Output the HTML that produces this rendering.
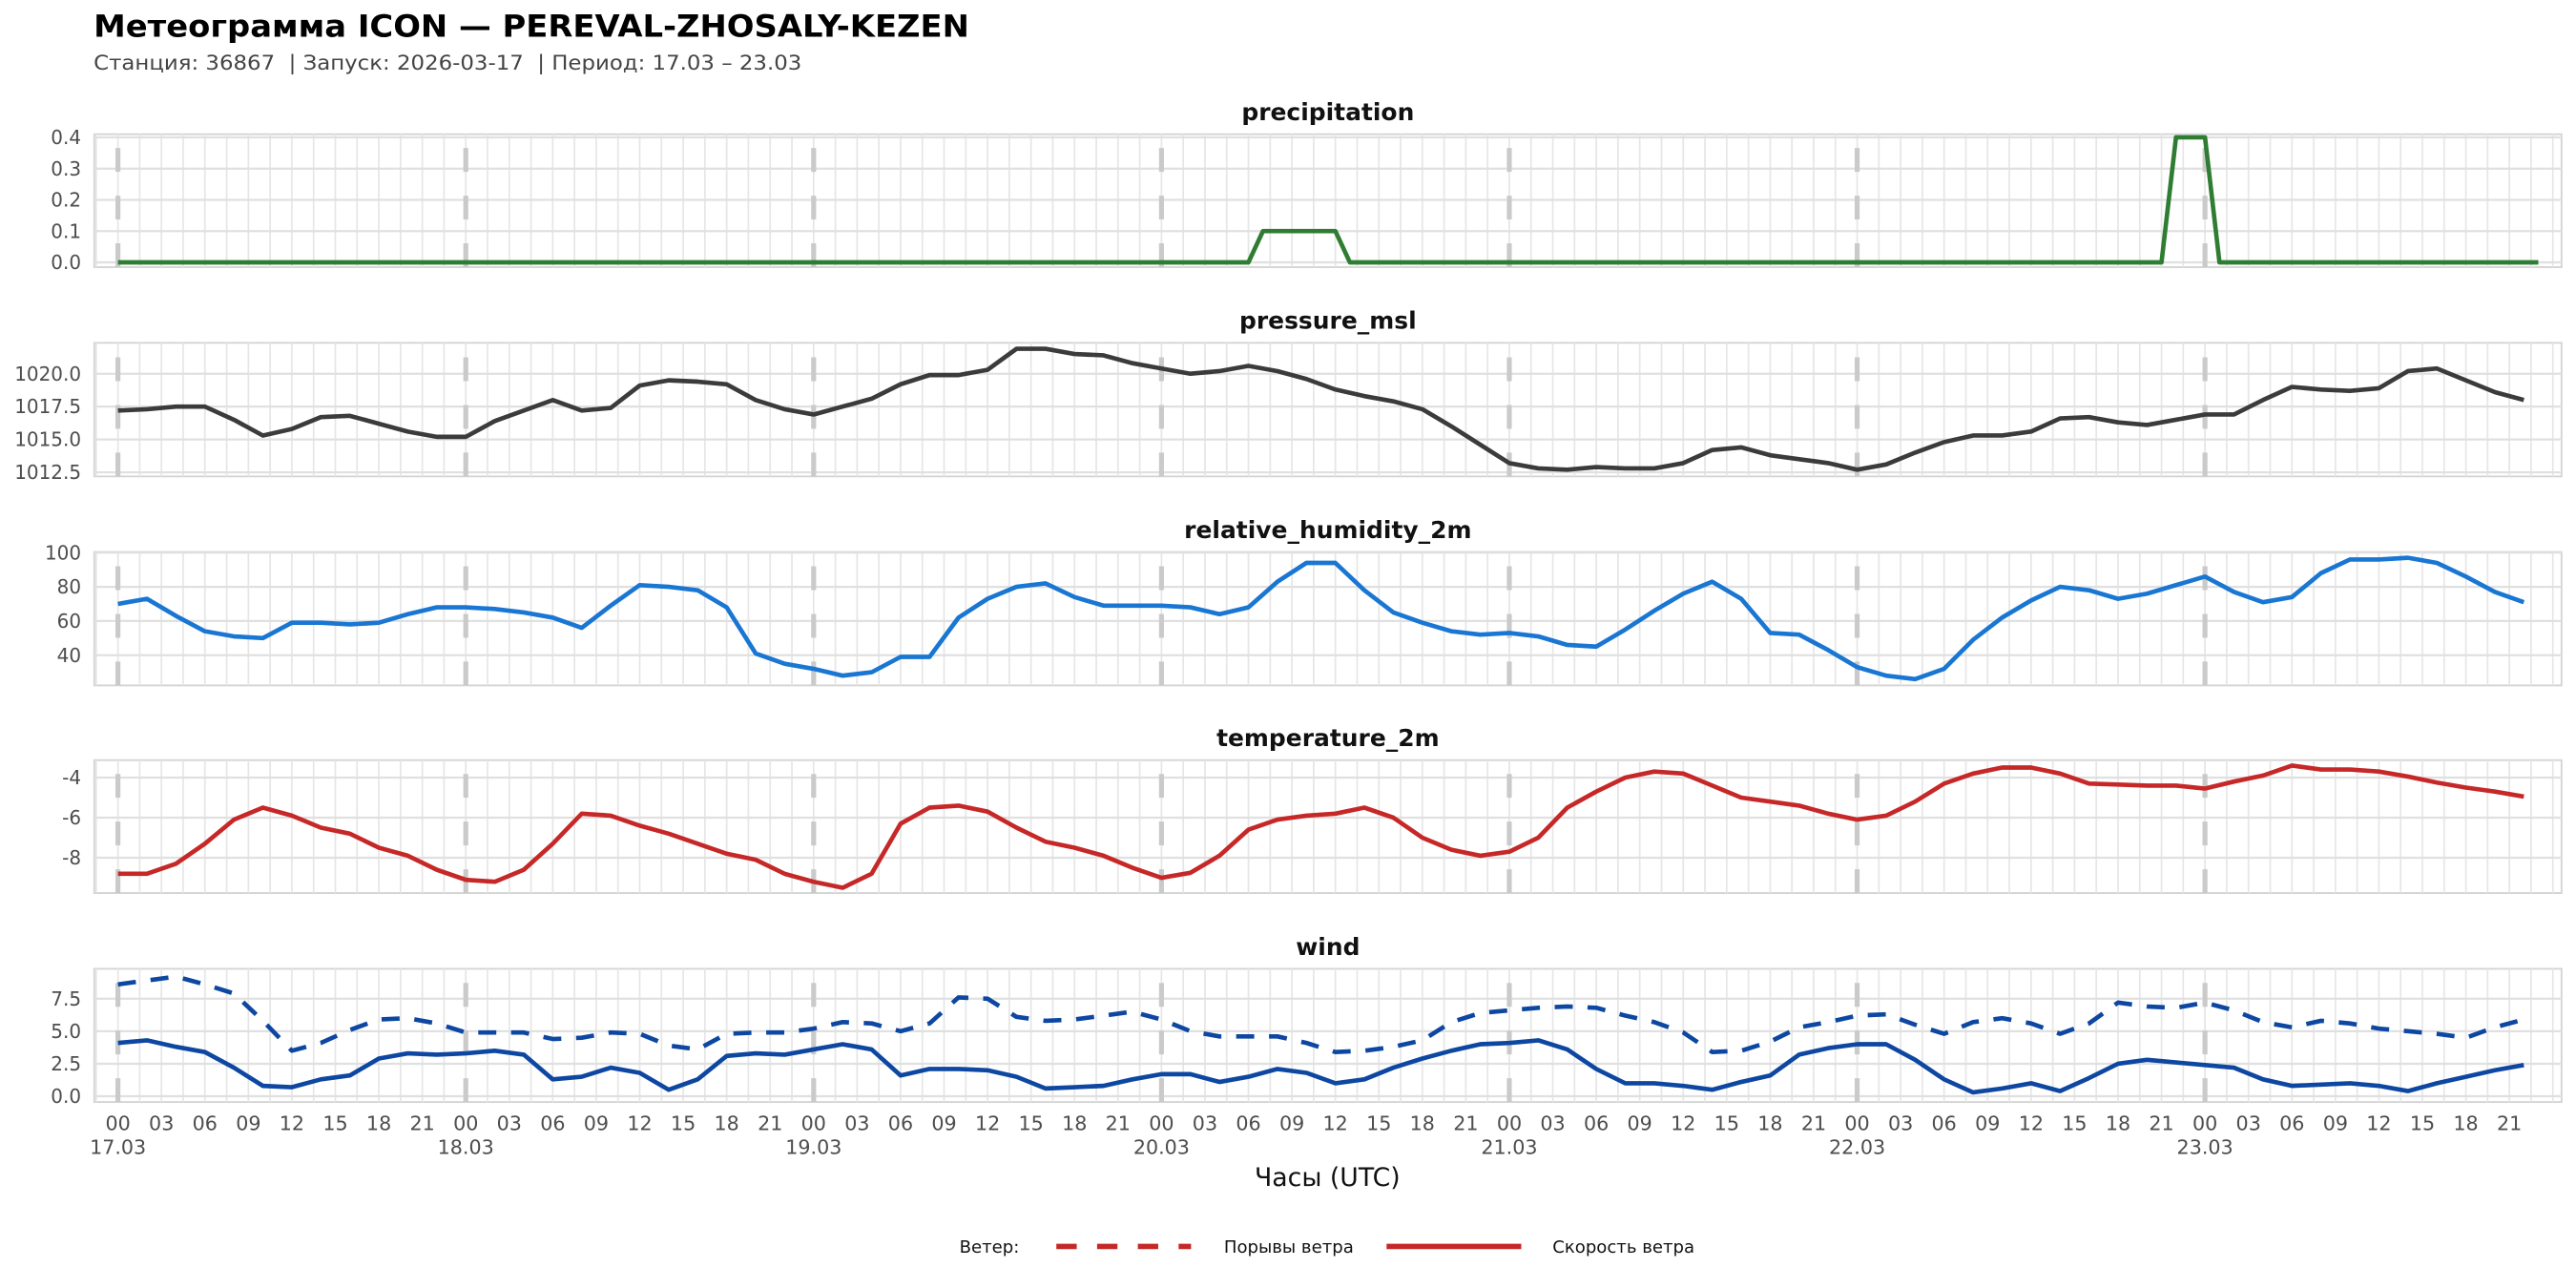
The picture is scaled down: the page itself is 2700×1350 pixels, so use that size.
<!DOCTYPE html>
<html><head><meta charset="utf-8"><title>Meteogram</title>
<style>
html,body{margin:0;padding:0;background:#fff;}
svg{display:block;font-family:"DejaVu Sans","Liberation Sans",sans-serif;}
</style></head>
<body>
<svg id="chart" width="2700" height="1350" viewBox="0 0 1568 784" xmlns="http://www.w3.org/2000/svg">
<text x="57" y="22.5" font-size="18.5" font-weight="bold" fill="#000" textLength="533" lengthAdjust="spacingAndGlyphs">Метеограмма ICON — PEREVAL-ZHOSALY-KEZEN</text>
<text xml:space="preserve" x="57" y="42.5" font-size="12.3" fill="#444" textLength="431" lengthAdjust="spacingAndGlyphs">Станция: 36867  | Запуск: 2026-03-17  | Период: 17.03 – 23.03</text>
<g id="panels"></g>
<text x="808" y="722" font-size="15.5" fill="#111" text-anchor="middle">Часы (UTC)</text>
<g>
<text x="584" y="762.5" font-size="10.5" fill="#111">Ветер:</text>
<line x1="643" y1="758.7" x2="725" y2="758.7" stroke="#c62828" stroke-width="3.2" stroke-dasharray="12.4 12.4"/>
<text x="745" y="762.5" font-size="10.5" fill="#111">Порывы ветра</text>
<line x1="844" y1="758.7" x2="926" y2="758.7" stroke="#c62828" stroke-width="3.2"/>
<text x="945" y="762.5" font-size="10.5" fill="#111">Скорость ветра</text>
</g>
</svg>
<script>
// ---- data (hourly precip; other series every 2 hours from 17.03 00 UTC) ----
const dayLabels = ["17.03","18.03","19.03","20.03","21.03","22.03","23.03"];
const hourLabels = ["00","03","06","09","12","15","18","21"];
const precipValues = [
0,0,0,0,0,0,0,0,0,0,0,0,0,0,0,0,0,0,0,0,0,0,0,0,
0,0,0,0,0,0,0,0,0,0,0,0,0,0,0,0,0,0,0,0,0,0,0,0,
0,0,0,0,0,0,0,0,0,0,0,0,0,0,0,0,0,0,0,0,0,0,0,0,
0,0,0,0,0,0,0,0.1,0.1,0.1,0.1,0.1,0.1,0,0,0,0,0,0,0,0,0,0,0,
0,0,0,0,0,0,0,0,0,0,0,0,0,0,0,0,0,0,0,0,0,0,0,0,
0,0,0,0,0,0,0,0,0,0,0,0,0,0,0,0,0,0,0,0,0,0,0.4,0.4,
0.4,0,0,0,0,0,0,0,0,0,0,0,0,0,0,0,0,0,0,0,0,0,0,0];
const pressureValues = [
1017.2,1017.3,1017.5,1017.5,1016.5,1015.3,1015.8,1016.7,1016.8,1016.2,1015.6,1015.2,
1015.2,1016.4,1017.2,1018.0,1017.2,1017.4,1019.1,1019.5,1019.4,1019.2,1018.0,1017.3,
1016.9,1017.5,1018.1,1019.2,1019.9,1019.9,1020.3,1021.9,1021.9,1021.5,1021.4,1020.8,
1020.4,1020.0,1020.2,1020.6,1020.2,1019.6,1018.8,1018.3,1017.9,1017.3,1016.0,1014.6,
1013.2,1012.8,1012.7,1012.9,1012.8,1012.8,1013.2,1014.2,1014.4,1013.8,1013.5,1013.2,
1012.7,1013.1,1014.0,1014.8,1015.3,1015.3,1015.6,1016.6,1016.7,1016.3,1016.1,1016.5,
1016.9,1016.9,1018.0,1019.0,1018.8,1018.7,1018.9,1020.2,1020.4,1019.5,1018.6,1018.0];
const humidityValues = [
70,73,63,54,51,50,59,59,58,59,64,68,
68,67,65,62,56,69,81,80,78,68,41,35,
32,28,30,39,39,62,73,80,82,74,69,69,
69,68,64,68,83,94,94,78,65,59,54,52,
53,51,46,45,55,66,76,83,73,53,52,43,
33,28,26,32,49,62,72,80,78,73,76,81,
86,77,71,74,88,96,96,97,94,86,77,71];
const temperatureValues = [
-8.8,-8.8,-8.3,-7.3,-6.1,-5.5,-5.9,-6.5,-6.8,-7.5,-7.9,-8.6,
-9.1,-9.2,-8.6,-7.3,-5.8,-5.9,-6.4,-6.8,-7.3,-7.8,-8.1,-8.8,
-9.2,-9.5,-8.8,-6.3,-5.5,-5.4,-5.7,-6.5,-7.2,-7.5,-7.9,-8.5,
-9.0,-8.75,-7.9,-6.6,-6.1,-5.9,-5.8,-5.5,-6.0,-7.0,-7.6,-7.9,
-7.7,-7.0,-5.5,-4.7,-4.0,-3.7,-3.8,-4.4,-5.0,-5.2,-5.4,-5.8,
-6.1,-5.9,-5.2,-4.3,-3.8,-3.5,-3.5,-3.8,-4.3,-4.35,-4.4,-4.4,
-4.55,-4.2,-3.9,-3.4,-3.6,-3.6,-3.7,-3.95,-4.25,-4.5,-4.7,-4.95];
const windSpeedValues = [
4.1,4.3,3.8,3.4,2.2,0.8,0.7,1.3,1.6,2.9,3.3,3.2,
3.3,3.5,3.2,1.3,1.5,2.2,1.8,0.5,1.3,3.1,3.3,3.2,
3.6,4.0,3.6,1.6,2.1,2.1,2.0,1.5,0.6,0.7,0.8,1.3,
1.7,1.7,1.1,1.5,2.1,1.8,1.0,1.3,2.2,2.9,3.5,4.0,
4.1,4.3,3.6,2.1,1.0,1.0,0.8,0.5,1.1,1.6,3.2,3.7,
4.0,4.0,2.8,1.3,0.3,0.6,1.0,0.4,1.4,2.5,2.8,2.6,
2.4,2.2,1.3,0.8,0.9,1.0,0.8,0.4,1.0,1.5,2.0,2.4];
const windGustValues = [
8.6,8.9,9.2,8.6,7.9,5.8,3.5,4.1,5.1,5.9,6.0,5.6,
4.9,4.9,4.9,4.4,4.5,4.9,4.8,3.9,3.6,4.8,4.9,4.9,
5.2,5.7,5.6,5.0,5.6,7.6,7.5,6.1,5.8,5.9,6.2,6.5,
5.9,5.0,4.6,4.6,4.6,4.1,3.4,3.5,3.8,4.3,5.7,6.4,
6.6,6.8,6.9,6.8,6.2,5.7,4.9,3.4,3.5,4.2,5.3,5.7,
6.2,6.3,5.5,4.8,5.7,6.0,5.6,4.8,5.6,7.2,6.9,6.8,
7.2,6.6,5.7,5.3,5.8,5.6,5.2,5.0,4.8,4.5,5.3,5.9];
const precipTicks = [0, 0.1, 0.2, 0.3, 0.4];
const precipTickLabels = ["0.0","0.1","0.2","0.3","0.4"];
const pressureTicks = [1012.5, 1015, 1017.5, 1020];
const pressureTickLabels = ["1012.5","1015.0","1017.5","1020.0"];
const humidityTicks = [40, 60, 80, 100];
const humidityTickLabels = ["40","60","80","100"];
const temperatureTicks = [-8, -6, -4];
const temperatureTickLabels = ["-8","-6","-4"];
const windTicks = [0, 2.5, 5, 7.5];
const windTickLabels = ["0.0","2.5","5.0","7.5"];

// ---- geometry ----
const NS = "http://www.w3.org/2000/svg";
const PX0 = 57.4, PX1 = 1559.2;
const HX0 = 71.8, HPX = 8.822; // x of hour 0, px per hour
function xScale(h){ return HX0 + h * HPX; }
function mk(tag, attrs, parent){
  const e = document.createElementNS(NS, tag);
  for (const k in attrs) e.setAttribute(k, attrs[k]);
  if (parent) parent.appendChild(e);
  return e;
}
function linY(v0, p0, v1, p1){ return v => p0 + (v - v0) * (p1 - p0) / (v1 - v0); }

const panels = [
  {name:"precipitation", top:81.7, bottom:162.6, y:linY(0,159.7,0.4,83.6), ticks:precipTicks, labels:precipTickLabels,
   series:[{vals:precipValues, step:1, color:"#2e7d32", dash:null, name:"precipitation-line"}]},
  {name:"pressure_msl", top:208.7, bottom:290, y:linY(1012.5,287.5,1020,227.5), ticks:pressureTicks, labels:pressureTickLabels,
   series:[{vals:pressureValues, step:2, color:"#3b3b3b", dash:null, name:"pressure-line"}]},
  {name:"relative_humidity_2m", top:336, bottom:417.2, y:linY(40,398.8,100,336.4), ticks:humidityTicks, labels:humidityTickLabels,
   series:[{vals:humidityValues, step:2, color:"#1976d2", dash:null, name:"humidity-line"}]},
  {name:"temperature_2m", top:462.7, bottom:543.6, y:linY(-8,522.1,-4,473.3), ticks:temperatureTicks, labels:temperatureTickLabels,
   series:[{vals:temperatureValues, step:2, color:"#c62828", dash:null, name:"temperature-line"}]},
  {name:"wind", top:589.7, bottom:670.8, y:linY(0,667.3,7.5,607.9), ticks:windTicks, labels:windTickLabels,
   series:[{vals:windGustValues, step:2, color:"#0d47a1", dash:"11 9", name:"wind-gust-line"},
           {vals:windSpeedValues, step:2, color:"#0d47a1", dash:null, name:"wind-speed-line"}]}
];

const root = document.getElementById("panels");
panels.forEach((p, pi) => {
  const g = mk("g", {}, root);
  
  
  const bg = mk("rect", {x:PX0, y:p.top, width:PX1-PX0, height:p.bottom-p.top, fill:"#fff", stroke:"#d4d4d4", "stroke-width":1.1}, g);
  
  
  const vg = mk("g", {stroke:"#e6e6e6", "stroke-width":1}, g);
  
  
  for (let k = -1; k <= 112; k++) {
    const x = xScale(k * 1.5);
    if (x <= PX0 + 0.5 || x >= PX1 - 0.5) continue;
    mk("line", {x1:x, x2:x, y1:p.top, y2:p.bottom}, vg);
  }
  const hg = mk("g", {}, g);
  
  
  p.ticks.forEach((t, i) => {
    const y = p.y(t);
    mk("line", {x1:PX0, x2:PX1, y1:y, y2:y, stroke:"#e0e0e0", "stroke-width":1.3}, hg);
    const lab = mk("text", {x:49.4, y:y + 4.1, "font-size":11.6, fill:"#4d4d4d", "text-anchor":"end"}, g);
    lab.textContent = p.labels[i];
    
    
  });
  for (let d = 0; d < dayLabels.length; d++) {
    const x = xScale(d * 24);
    const dl = mk("line", {x1:x, x2:x, y1:p.bottom, y2:p.top, stroke:"#cacaca", "stroke-width":3, "stroke-dasharray":"14.5 14.5"}, g);
    
    
  }
  p.series.forEach(s => {
    const pts = s.vals.map((v, i) => xScale(i * s.step).toFixed(2) + "," + p.y(v).toFixed(2)).join(" ");
    const attrs = {points:pts, fill:"none", stroke:s.color, "stroke-width":2.7, "stroke-linejoin":"round", "stroke-linecap":"butt"};
    if (s.dash) attrs["stroke-dasharray"] = s.dash;
    const pl = mk("polyline", attrs, g);
    
    
  });
  const tt = mk("text", {x:(PX0+PX1)/2, y:p.top - 8.5, "font-size":14.5, "font-weight":"bold", fill:"#111", "text-anchor":"middle"}, g);
  tt.textContent = p.name;
  
  
});

const xg = mk("g", {"font-size":12, fill:"#4d4d4d", "text-anchor":"middle"}, root);


for (let d = 0; d < dayLabels.length; d++) {
  for (let j = 0; j < hourLabels.length; j++) {
    const x = xScale(d * 24 + j * 3);
    const t = mk("text", {x:x, y:688}, xg);
    t.textContent = hourLabels[j];
    
    
  }
  const dt = mk("text", {x:xScale(d * 24), y:702.5}, xg);
  dt.textContent = dayLabels[d];
  
  
}
</script>
</body></html>
